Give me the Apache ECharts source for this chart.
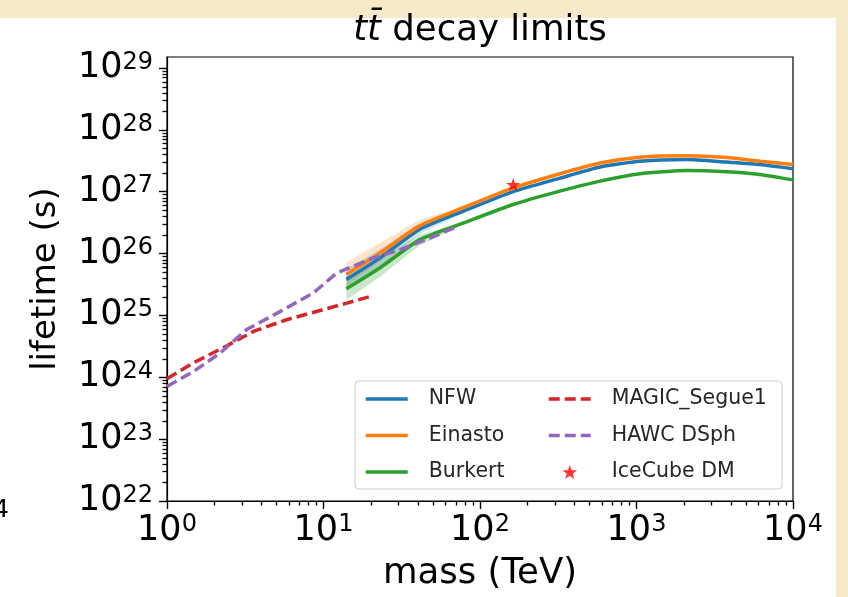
<!DOCTYPE html>
<html>
<head>
<meta charset="utf-8">
<script src="https://cdn.jsdelivr.net/npm/echarts@6/dist/echarts.min.js"></script>
<style>
html,body{margin:0;padding:0;background:#f6ebc8;}
#chart{width:848px;height:597px;}
</style>
</head>
<body>
<div id="chart"></div>
<script>
// ---- data ----
const mass = [14, 23, 41, 78, 163, 324, 585, 1050, 2090, 3770, 6150, 10000];
const nfw = [3.8e25, 8.5e25, 2.45e26, 4.8e26, 1.0e27, 1.65e27, 2.5e27, 3.1e27, 3.3e27, 3.0e27, 2.75e27, 2.35e27];
const einasto = [4.6e25, 1.02e26, 2.8e26, 5.5e26, 1.15e27, 1.95e27, 2.9e27, 3.6e27, 3.8e27, 3.55e27, 3.1e27, 2.75e27];
const burkert = [2.7e25, 5.9e25, 1.66e26, 3.1e26, 6.2e26, 1.02e27, 1.48e27, 1.95e27, 2.2e27, 2.1e27, 1.9e27, 1.55e27];

const bandMass = [14, 23, 41, 78];
const nfwUpper = [5.6e25, 1.17e26, 2.95e26, 5.0e26];
const nfwLower = [2.5e25, 6.2e25, 2.05e26, 4.6e26];
const einastoUpper = [7.2e25, 1.48e26, 3.5e26, 5.75e26];
const einastoLower = [3.0e25, 7.4e25, 2.35e26, 5.25e26];
const burkertUpper = [4.2e25, 8.3e25, 2.0e26, 3.25e26];
const burkertLower = [1.78e25, 4.2e25, 1.35e26, 2.95e26];

const magicMass = [1, 1.47, 2.4, 3.56, 5.8, 9.5, 14.1, 19.6];
const magicLife = [9.5e23, 1.7e24, 3.2e24, 5.5e24, 8.5e24, 1.2e25, 1.58e25, 2.0e25];

const hawcMass = [1, 1.47, 2.18, 3.23, 5.27, 8.6, 12.1, 20.8, 30.8, 47.9, 70.8];
const hawcLife = [7.1e23, 1.23e24, 2.45e24, 5.9e24, 1.15e25, 2.3e25, 4.8e25, 8.5e25, 1.15e26, 1.78e26, 2.7e26];

const icecubeMass = [163];
const icecubeLife = [1.3e27];

const xTicks = [1, 10, 100, 1000, 10000];
const yTicks = [1e22, 1e23, 1e24, 1e25, 1e26, 1e27, 1e28, 1e29];
const X_MIN = 1, X_MAX = 10000, Y_MIN = 1e22, Y_MAX = 1.5e29;

// ---- helpers ----
function minorTicks(decades) {
  const out = [];
  decades.forEach(d => { for (let k = 2; k <= 9; k++) out.push(k * d); });
  return out;
}
const xMinor = minorTicks([1, 10, 100, 1000]);
const yMinor = minorTicks([1e22, 1e23, 1e24, 1e25, 1e26, 1e27, 1e28]);

const FONT = 'DejaVu Sans';
const pow10 = v => '{b|10}{s|' + Math.round(Math.log10(v)) + '}';
const richTick = {
  b: {fontSize: 35, lineHeight: 35, fontFamily: FONT, color: '#000'},
  s: {fontSize: 24, lineHeight: 20, fontFamily: FONT, color: '#000', verticalAlign: 'top'}
};

function bandSeries(upper, lower, color) {
  return {
    type: 'custom',
    z: 1,
    silent: true,
    data: bandMass.map((m, i) => [m, upper[i]]),
    renderItem: function (params, api) {
      if (params.dataIndex !== 0) return;
      const pts = [];
      for (let i = 0; i < bandMass.length; i++) pts.push(api.coord([bandMass[i], upper[i]]));
      for (let i = bandMass.length - 1; i >= 0; i--) pts.push(api.coord([bandMass[i], lower[i]]));
      return {type: 'polygon', shape: {points: pts}, style: {fill: color}};
    }
  };
}

// minor tick marks (2..9 x 10^n), placed through the axes' own log scales
function minorTickSeries(values, isX, len) {
  return {
    type: 'custom', silent: true, z: 6, clip: false,
    data: values.map(v => isX ? [v, Y_MIN] : [X_MIN, v]),
    renderItem: function (params, api) {
      const c = api.coord([api.value(0), api.value(1)]);
      if (isX) {
        const x = Math.round(c[0]) + 0.5;
        return {type: 'rect', shape: {x: x - 0.65, y: c[1], width: 1.3, height: len}, style: {fill: '#000'}};
      }
      const y = Math.round(c[1]) + 0.5;
      return {type: 'rect', shape: {x: c[0] - len, y: y - 0.65, width: len, height: 1.3}, style: {fill: '#000'}};
    }
  };
}

const zip = (a, b) => a.map((v, i) => [v, b[i]]);
const STAR = 'path://M0,-10 L2.35,-3.24 9.51,-3.09 3.8,1.24 5.88,8.09 0,4 -5.88,8.09 -3.8,1.24 -9.51,-3.09 -2.35,-3.24 Z';

const chart = echarts.init(document.getElementById('chart'), null, {renderer: 'canvas'});
const legendCommon = {
  orient: 'vertical', top: 388, padding: 0, itemWidth: 42, itemHeight: 14, itemGap: 14.5,
  selectedMode: false,
  lineStyle: {width: 3.5},
  textStyle: {fontSize: 20.5, lineHeight: 22, fontFamily: FONT, color: '#262626', padding: [0, 0, 0, 16]}
};
const hid = {opacity: 0};

chart.setOption({
  animation: false,
  backgroundColor: '#f6ebc8',
  textStyle: {fontFamily: FONT},
  title: {
    text: '{i|t}{i|t\u0304}{n| decay limits}',
    left: 480, top: 13, padding: 0, textAlign: 'center',
    textStyle: {
      fontWeight: 'normal',
      rich: {
        i: {fontSize: 35.5, fontStyle: 'italic', fontWeight: 'normal', fontFamily: FONT, color: '#000'},
        n: {fontSize: 35.5, fontWeight: 'normal', fontFamily: FONT, color: '#000'}
      }
    }
  },
  graphic: [
    {type: 'rect', z: -100, shape: {x: 0, y: 18, width: 836, height: 579}, style: {fill: '#ffffff'}},
    {type: 'rect', z: 3, shape: {x: 355, y: 381, width: 427, height: 108, r: 4},
     style: {fill: 'rgba(255,255,255,0.85)', stroke: '#cccccc', lineWidth: 1}},
    {type: 'text', z: 3, left: -7, top: 498, style: {text: '4', fontSize: 25, fontFamily: FONT, fill: '#000'}}
  ],
  grid: {left: 167, right: 55, top: 57, bottom: 96, show: true, borderColor: '#000', borderWidth: 1.2, backgroundColor: '#fff'},
  legend: [
    Object.assign({left: 364, data: [
      {name: 'NFW', itemStyle: hid}, {name: 'Einasto', itemStyle: hid}, {name: 'Burkert', itemStyle: hid}
    ]}, legendCommon),
    Object.assign({left: 547, data: [
      {name: 'MAGIC_Segue1', itemStyle: hid}, {name: 'HAWC DSph', itemStyle: hid}, 'IceCube DM'
    ]}, legendCommon)
  ],
  xAxis: {
    type: 'log', logBase: 10, min: X_MIN, max: X_MAX, position: 'bottom',
    name: 'mass (TeV)', nameLocation: 'middle', nameGap: 55,
    nameTextStyle: {fontSize: 35.5, fontFamily: FONT, color: '#000'},
    axisLine: {lineStyle: {color: '#000', width: 1.2}},
    axisTick: {show: true, length: 8, lineStyle: {color: '#000', width: 1.4}, customValues: xTicks},
    axisLabel: {margin: 12, customValues: xTicks, formatter: pow10, rich: richTick},
    splitLine: {show: false}, minorSplitLine: {show: false}
  },
  yAxis: {
    type: 'log', logBase: 10, min: Y_MIN, max: Y_MAX, position: 'left',
    name: 'lifetime (s)', nameLocation: 'middle', nameGap: 104, nameRotate: 90,
    nameTextStyle: {fontSize: 34, fontFamily: FONT, color: '#000'},
    axisLine: {lineStyle: {color: '#000', width: 1.2}},
    axisTick: {show: true, length: 8, lineStyle: {color: '#000', width: 1.4}, customValues: yTicks},
    axisLabel: {margin: 14, customValues: yTicks, formatter: pow10, rich: richTick},
    splitLine: {show: false}
  },
  series: [
    bandSeries(einastoUpper, einastoLower, 'rgba(255,127,14,0.22)'),
    bandSeries(nfwUpper, nfwLower, 'rgba(31,119,180,0.22)'),
    bandSeries(burkertUpper, burkertLower, 'rgba(44,160,44,0.25)'),
    {name: 'NFW', type: 'line', z: 2, data: zip(mass, nfw), showSymbol: false, symbol: 'none', smooth: 0.2,
     color: '#1f77b4', lineStyle: {color: '#1f77b4', width: 3.5}},
    {name: 'Einasto', type: 'line', z: 2, data: zip(mass, einasto), showSymbol: false, symbol: 'none', smooth: 0.2,
     color: '#ff7f0e', lineStyle: {color: '#ff7f0e', width: 3.5}},
    {name: 'Burkert', type: 'line', z: 2, data: zip(mass, burkert), showSymbol: false, symbol: 'none', smooth: 0.2,
     color: '#2ca02c', lineStyle: {color: '#2ca02c', width: 3.5}},
    {name: 'MAGIC_Segue1', type: 'line', z: 3, data: zip(magicMass, magicLife), showSymbol: false, symbol: 'none',
     color: '#d62728', lineStyle: {color: '#d62728', width: 3.5, type: [11, 5]}},
    {name: 'HAWC DSph', type: 'line', z: 3, data: zip(hawcMass, hawcLife), showSymbol: false, symbol: 'none',
     color: '#9467bd', lineStyle: {color: '#9467bd', width: 3.5, type: [11, 5]}},
    {name: 'IceCube DM', type: 'scatter', z: 4, data: zip(icecubeMass, icecubeLife), symbol: STAR,
     symbolSize: 14, symbolKeepAspect: true, color: '#ff0000', itemStyle: {color: '#ff0000'}},
    minorTickSeries(xMinor, true, 4.5),
    minorTickSeries(yMinor, false, 4.5)
  ]
});
</script>
</body>
</html>
